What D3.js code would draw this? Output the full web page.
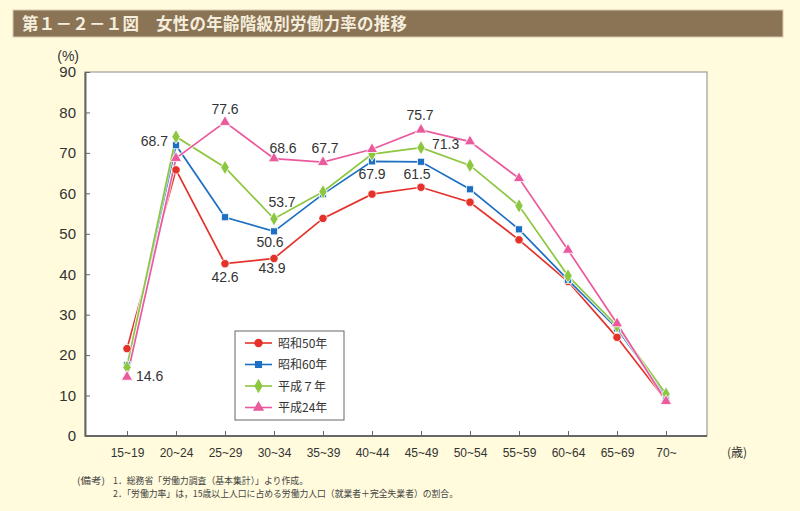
<!DOCTYPE html>
<html><head><meta charset="utf-8">
<script src="https://cdn.jsdelivr.net/npm/d3@7"></script>
<style>
html,body{margin:0;padding:0;background:#FFFBDC;}
svg{display:block;}
</style></head>
<body><svg id="c" width="800" height="511"></svg>
<script>
const categories = ["15~19","20~24","25~29","30~34","35~39","40~44","45~49","50~54","55~59","60~64","65~69","70~"];
const yTicks = [0,10,20,30,40,50,60,70,80,90];
const seriesNames = ["昭和50年","昭和60年","平成７年","平成24年"];
const s50 = [21.6, 65.8, 42.6, 43.9, 53.8, 59.8, 61.5, 57.8, 48.5, 38.2, 24.4, 8.8];
const s60 = [17.5, 71.9, 54.1, 50.6, 59.8, 67.9, 67.8, 61.0, 51.1, 38.6, 26.6, 9.7];
const h7  = [17.0, 74.0, 66.4, 53.7, 60.4, 69.7, 71.3, 66.9, 56.9, 39.6, 27.2, 10.4];
const h24 = [14.6, 68.7, 77.6, 68.6, 67.7, 70.9, 75.7, 72.8, 63.7, 46.0, 27.8, 8.6];
const title = "第１－２－１図　女性の年齢階級別労働力率の推移";
const notesHead = "(備考)";
const notes = ["1．総務省「労働力調査（基本集計）」より作成。","2．「労働力率」は，15歳以上人口に占める労働力人口（就業者＋完全失業者）の割合。"];
// labelled points: [series index, category index]
const labelled = [[3,0],[3,1],[3,2],[0,2],[0,3],[1,3],[2,3],[3,3],[3,4],[1,5],[0,6],[3,6],[2,6]];

const allSeries = [s50, s60, h7, h24];
const colors = ["#E4322B","#1C6FC2","#8DC63F","#EA5A9C"];
const shapes = [d3.symbolCircle, d3.symbolSquare, d3.symbolDiamond, d3.symbolTriangle];
const sizes = [55, 50, 60, 55];

const svg = d3.select("#c");
const font = "'Noto Sans CJK JP','Noto Sans',sans-serif";
const latin = "'Liberation Sans',Arial,sans-serif";

// title bar
svg.append("rect").attr("x",13).attr("y",10).attr("width",770).attr("height",27)
  .attr("fill","#8B7355").attr("stroke","#D9CBB0").attr("stroke-width",1);
svg.append("text").attr("x",22).attr("y",30).attr("fill","#F5EEDC")
  .attr("font-family",font).attr("font-size",16.5).attr("font-weight","bold")
  .attr("textLength",385).attr("lengthAdjust","spacing").text(title);

const L=85, R=707, T=72, B=436;
const x = d3.scalePoint().domain(categories).range([127,666]);
const y = d3.scaleLinear().domain([0,90]).range([B,T]);

svg.append("rect").attr("x",L).attr("y",T).attr("width",R-L).attr("height",B-T)
  .attr("fill","#fff").attr("stroke","#8a8a8a").attr("stroke-width",1);

// y axis
const ya = svg.append("g").attr("transform",`translate(${L},0)`)
  .call(d3.axisLeft(y).tickValues(yTicks).tickSizeInner(-5).tickSizeOuter(0).tickPadding(9));
ya.select(".domain").attr("stroke","#666").attr("stroke-width",2);
ya.selectAll(".tick line").attr("stroke","#666");
ya.selectAll("text").attr("font-family",latin).attr("font-size",15).attr("fill","#333");

// x axis
const xa = svg.append("g").attr("transform",`translate(0,${B})`)
  .call(d3.axisBottom(x).tickSizeInner(-5).tickSizeOuter(0).tickPadding(12));
xa.select(".domain").attr("d",`M${L},0H${R}`).attr("stroke","#666").attr("stroke-width",2);
xa.selectAll(".tick line").attr("stroke","#666");
xa.selectAll("text").attr("font-family",latin).attr("font-size",12).attr("fill","#333");

svg.append("text").attr("x",79).attr("y",61).attr("text-anchor","end")
  .attr("font-family",latin).attr("font-size",14).attr("fill","#333").text("(%)");
svg.append("text").attr("x",727).attr("y",457)
  .attr("font-family",font).attr("font-size",12).attr("fill","#333").text("(歳)");

// lines
const line = d3.line().x((d,i)=>x(categories[i])).y(d=>y(d));
allSeries.forEach((s,k)=>{
  svg.append("path").datum(s).attr("d",line).attr("fill","none")
    .attr("stroke","#fff").attr("stroke-width",3.5).attr("stroke-opacity",0.7);
  svg.append("path").datum(s).attr("d",line).attr("fill","none")
    .attr("stroke",colors[k]).attr("stroke-width",1.7);
});
allSeries.forEach((s,k)=>{
  svg.append("g").selectAll("path").data(s).join("path")
    .attr("transform",(d,i)=>`translate(${x(categories[i])},${y(d)})`)
    .attr("d",d3.symbol().type(shapes[k]).size(sizes[k]))
    .attr("fill",colors[k]).attr("stroke","#fff").attr("stroke-width",0.8);
});

// value labels
const offs = {"3,0":[9,4,"start"],"3,1":[-8,-12,"end"],"3,2":[0,-8,"middle"],"0,2":[0,18,"middle"],
  "0,3":[-2,15,"middle"],"1,3":[-4,16,"middle"],"2,3":[8,-12,"middle"],"3,3":[9,-6,"middle"],
  "3,4":[2,-9,"middle"],"1,5":[0,18,"middle"],"0,6":[-4,-8,"middle"],"3,6":[-1,-10,"middle"],"2,6":[11,1,"start"]};
labelled.forEach(([k,i])=>{
  const o = offs[k+","+i];
  svg.append("text").attr("x",x(categories[i])+o[0]).attr("y",y(allSeries[k][i])+o[1])
    .attr("text-anchor",o[2]).attr("font-family",latin)
    .attr("font-size",14).attr("fill","#333").text(allSeries[k][i].toFixed(1));
});

// legend
const lg = svg.append("g");
lg.append("rect").attr("x",235).attr("y",331).attr("width",109).attr("height",89)
  .attr("fill","#fff").attr("stroke","#666").attr("stroke-width",1);
seriesNames.forEach((n,k)=>{
  const yy = 343 + k*21.5;
  lg.append("line").attr("x1",245).attr("x2",272).attr("y1",yy).attr("y2",yy)
    .attr("stroke",colors[k]).attr("stroke-width",1.6);
  lg.append("path").attr("transform",`translate(258.5,${yy})`)
    .attr("d",d3.symbol().type(shapes[k]).size(sizes[k])).attr("fill",colors[k]);
  lg.append("text").attr("x",278).attr("y",yy+4.5).attr("font-family",font)
    .attr("font-size",12).attr("fill","#333").text(n);
});

// notes
svg.append("text").attr("x",77).attr("y",484).attr("font-family",font).attr("font-size",9.5).attr("fill","#444")
  .attr("textLength",28).attr("lengthAdjust","spacingAndGlyphs").text(notesHead);
const noteLens = [195, 345];
notes.forEach((t,i)=>{
  svg.append("text").attr("x",113).attr("y",484+i*13).attr("font-family",font).attr("font-size",9.5).attr("fill","#444")
    .attr("textLength",noteLens[i]).attr("lengthAdjust","spacingAndGlyphs").text(t);
});
</script></body></html>
